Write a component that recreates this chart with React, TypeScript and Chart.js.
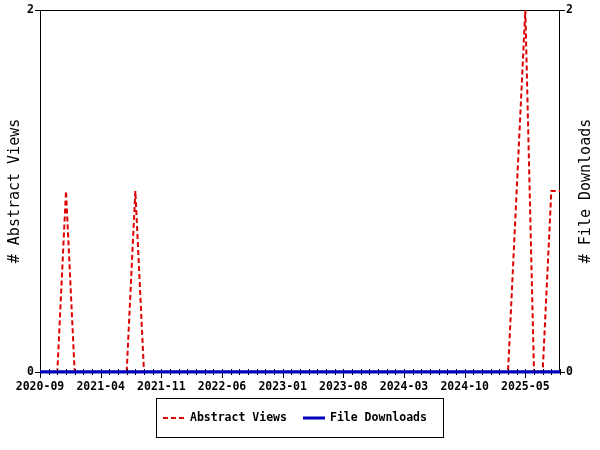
import React, { useEffect, useRef } from "react";
import { Chart, registerables } from "chart.js";

Chart.register(...registerables);

const months: string[] = [
  "2020-09", "2020-10", "2020-11", "2020-12",
  "2021-01", "2021-02", "2021-03", "2021-04", "2021-05", "2021-06", "2021-07", "2021-08", "2021-09", "2021-10", "2021-11", "2021-12",
  "2022-01", "2022-02", "2022-03", "2022-04", "2022-05", "2022-06", "2022-07", "2022-08", "2022-09", "2022-10", "2022-11", "2022-12",
  "2023-01", "2023-02", "2023-03", "2023-04", "2023-05", "2023-06", "2023-07", "2023-08", "2023-09", "2023-10", "2023-11", "2023-12",
  "2024-01", "2024-02", "2024-03", "2024-04", "2024-05", "2024-06", "2024-07", "2024-08", "2024-09", "2024-10", "2024-11", "2024-12",
  "2025-01", "2025-02", "2025-03", "2025-04", "2025-05", "2025-06", "2025-07", "2025-08", "2025-09",
];

const abstractViews: number[] = [
  0, 0, 0, 1,
  0, 0, 0, 0, 0, 0, 0, 1, 0, 0, 0, 0,
  0, 0, 0, 0, 0, 0, 0, 0, 0, 0, 0, 0,
  0, 0, 0, 0, 0, 0, 0, 0, 0, 0, 0, 0,
  0, 0, 0, 0, 0, 0, 0, 0, 0, 0, 0, 0,
  0, 0, 0, 1, 2, 0, 0, 1, 1,
];

const fileDownloads: number[] = [
  0, 0, 0, 0,
  0, 0, 0, 0, 0, 0, 0, 0, 0, 0, 0, 0,
  0, 0, 0, 0, 0, 0, 0, 0, 0, 0, 0, 0,
  0, 0, 0, 0, 0, 0, 0, 0, 0, 0, 0, 0,
  0, 0, 0, 0, 0, 0, 0, 0, 0, 0, 0, 0,
  0, 0, 0, 0, 0, 0, 0, 0, 0,
];

const yTicks: number[] = [0, 2];
const labelEvery = 7;
const leftTitle = "# Abstract Views";
const rightTitle = "# File Downloads";

const RED = "rgb(221,0,0)";
const BLUE = "rgb(0,0,187)";
const MONO = "'DejaVu Sans Mono', 'Liberation Mono', monospace";

export default function App() {
  const ref = useRef<HTMLCanvasElement | null>(null);

  useEffect(() => {
    document.body.style.margin = "0";
    const canvas = ref.current;
    if (!canvas) return;

    const framePlugin = {
      id: "frame",
      beforeDatasetsDraw(chart: any) {
        const { ctx, chartArea } = chart;
        ctx.save();
        ctx.strokeStyle = "#000";
        ctx.lineWidth = 1;
        ctx.strokeRect(
          Math.round(chartArea.left) + 0.5,
          Math.round(chartArea.top) + 0.5,
          Math.round(chartArea.right - chartArea.left) - 1,
          Math.round(chartArea.bottom - chartArea.top)
        );
        ctx.restore();
      },
      afterDraw(chart: any) {
        const { ctx, chartArea } = chart;
        const xs = chart.scales.x;
        const b = Math.round(chartArea.bottom);
        ctx.save();
        ctx.strokeStyle = "#000";
        ctx.lineWidth = 1;
        for (let i = 0; i < months.length; i++) {
          const x = Math.round(xs.getPixelForValue(i)) + 0.5;
          ctx.beginPath();
          ctx.moveTo(x, b - 3);
          ctx.lineTo(x, i % labelEvery === 0 ? b + 6 : b + 3);
          ctx.stroke();
        }
        ctx.strokeStyle = BLUE;
        ctx.lineWidth = 3;
        ctx.beginPath();
        ctx.moveTo(chartArea.left, b);
        ctx.lineTo(chartArea.right, b);
        ctx.stroke();

        // right axis title, reading bottom-to-top
        const cy = (chartArea.top + chartArea.bottom) / 2;
        ctx.save();
        ctx.translate(586, cy);
        ctx.rotate(-Math.PI / 2);
        ctx.fillStyle = "#000";
        ctx.font = "15px " + MONO;
        ctx.textAlign = "center";
        ctx.textBaseline = "middle";
        ctx.fillText(rightTitle, 0, 0);
        ctx.restore();

        // legend
        const bx = 156.5, by = 398.5, bw = 287, bh = 39;
        ctx.strokeStyle = "#000";
        ctx.lineWidth = 1;
        ctx.strokeRect(bx, by, bw, bh);
        const ly = 418;
        ctx.strokeStyle = RED;
        ctx.lineWidth = 2;
        ctx.setLineDash([5, 3]);
        ctx.beginPath();
        ctx.moveTo(163, ly);
        ctx.lineTo(184, ly);
        ctx.stroke();
        ctx.setLineDash([]);
        ctx.strokeStyle = BLUE;
        ctx.lineWidth = 3;
        ctx.beginPath();
        ctx.moveTo(303, ly);
        ctx.lineTo(325, ly);
        ctx.stroke();
        ctx.fillStyle = "#000";
        ctx.font = "bold 11.5px " + MONO;
        ctx.textBaseline = "middle";
        ctx.textAlign = "left";
        ctx.fillText(chart.data.datasets[0].label, 190, ly);
        ctx.fillText(chart.data.datasets[1].label, 330, ly);
        ctx.restore();
      },
    };

    const chart = new Chart(canvas, {
      type: "line",
      data: {
        labels: months,
        datasets: [
          {
            label: "Abstract Views",
            data: abstractViews,
            borderColor: RED,
            backgroundColor: RED,
            borderWidth: 2,
            borderDash: [5, 3],
            pointRadius: 0,
            tension: 0,
            yAxisID: "y",
          },
          {
            label: "File Downloads",
            data: fileDownloads,
            borderColor: BLUE,
            backgroundColor: BLUE,
            borderWidth: 3,
            pointRadius: 0,
            tension: 0,
            yAxisID: "y1",
          },
        ],
      },
      options: {
        responsive: false,
        animation: false,
        layout: { padding: { top: 10, bottom: 48, left: 0, right: 0 } },
        plugins: {
          legend: { display: false },
          tooltip: { enabled: false },
        },
        scales: {
          x: {
            type: "category",
            offset: false,
            grid: { display: false, drawTicks: false },
            border: { display: false },
            ticks: {
              autoSkip: false,
              maxRotation: 0,
              minRotation: 0,
              padding: 8,
              color: "#000",
              font: { family: MONO, size: 11.5, weight: "bold" },
              callback: (_v: any, i: number) => (i % labelEvery === 0 ? months[i] : ""),
            },
            afterFit: (s: any) => {
              s.height = 30;
            },
          },
          y: {
            position: "left",
            min: 0,
            max: 2,
            afterBuildTicks: (s: any) => {
              s.ticks = yTicks.map((v) => ({ value: v }));
            },
            grid: { drawOnChartArea: false, tickLength: 5, color: "#000" },
            border: { display: false },
            ticks: {
              padding: 1,
              color: "#000",
              font: { family: MONO, size: 11.5, weight: "bold" },
            },
            title: {
              display: true,
              text: leftTitle,
              color: "#000",
              font: { family: MONO, size: 15, weight: "normal" },
              padding: { top: 6, bottom: 0 },
            },
            afterFit: (s: any) => {
              s.width = 40;
            },
          },
          y1: {
            position: "right",
            min: 0,
            max: 2,
            afterBuildTicks: (s: any) => {
              s.ticks = yTicks.map((v) => ({ value: v }));
            },
            grid: { drawOnChartArea: false, tickLength: 5, color: "#000" },
            border: { display: false },
            ticks: {
              padding: 1,
              color: "#000",
              font: { family: MONO, size: 11.5, weight: "bold" },
            },
            title: { display: false },
            afterFit: (s: any) => {
              s.width = 40;
            },
          },
        },
      },
      plugins: [framePlugin],
    } as any);

    return () => chart.destroy();
  }, []);

  return (
    <div style={{ width: 600, height: 450, background: "#fff" }}>
      <canvas ref={ref} width={600} height={450} style={{ display: "block", width: 600, height: 450 }} />
    </div>
  );
}
